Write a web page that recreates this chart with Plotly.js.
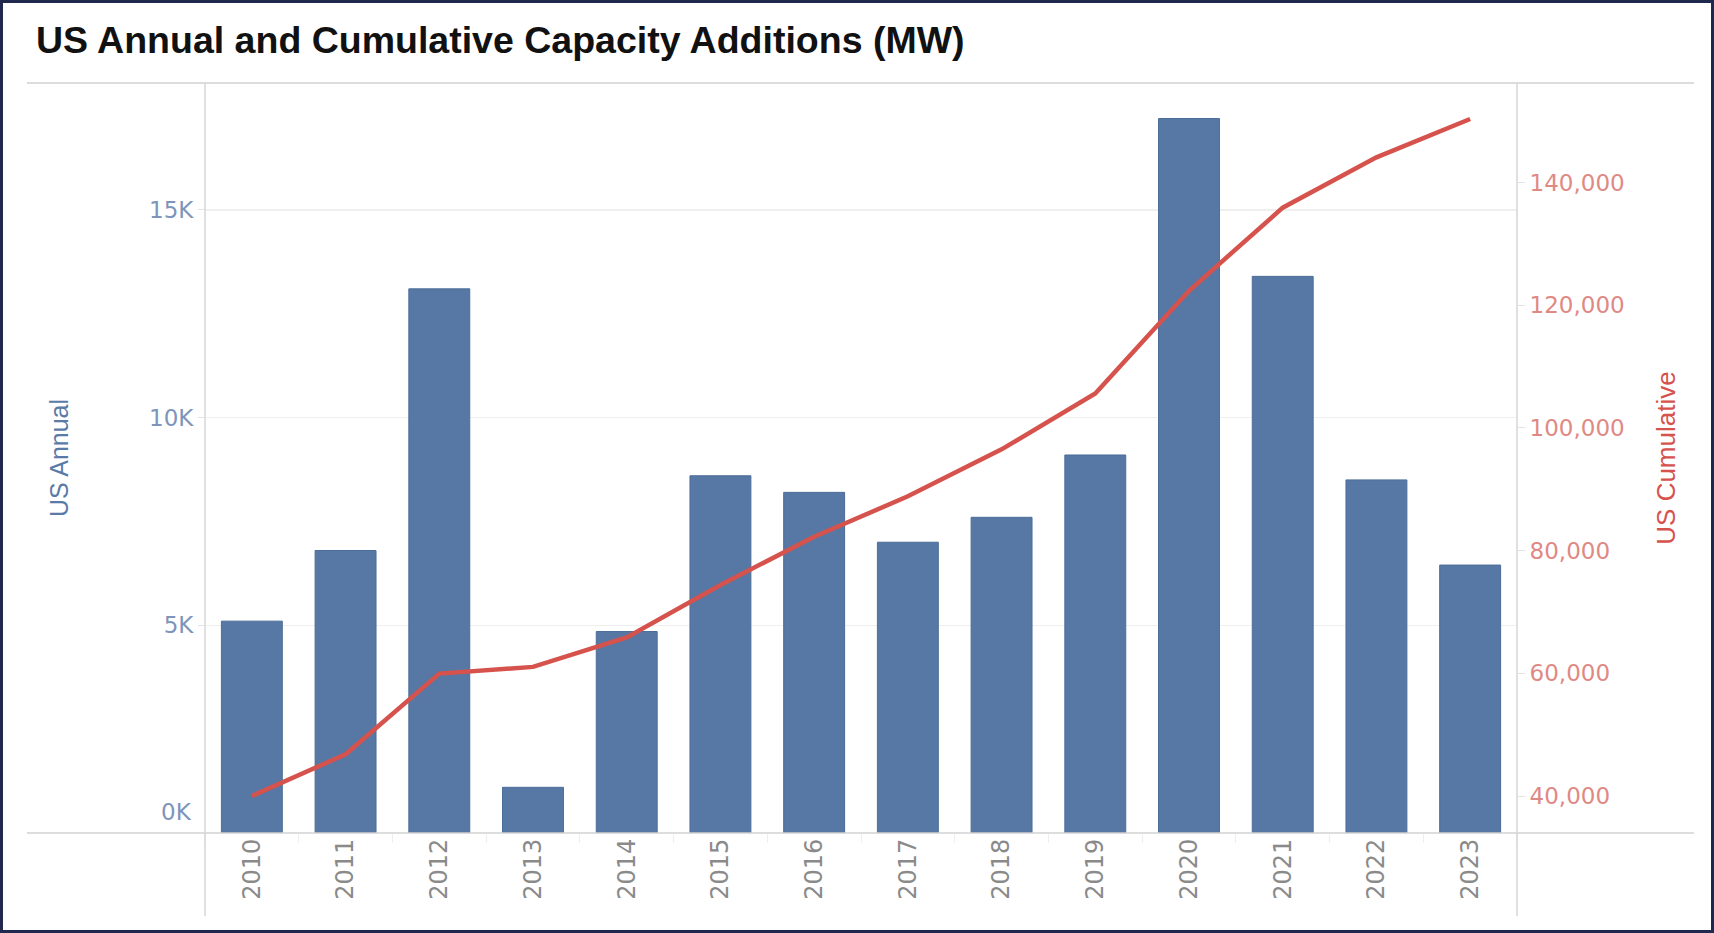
<!DOCTYPE html>
<html>
<head>
<meta charset="utf-8">
<script src="https://cdn.plot.ly/plotly-3.0.1.min.js"></script>
<style>
  html, body { margin: 0; padding: 0; background: #ffffff; }
  #wrap { position: relative; width: 1714px; height: 933px; }
  #chart { position: absolute; left: 0; top: 0; width: 1714px; height: 933px; }
  #frame { position: absolute; left: 0; top: 0; width: 1714px; height: 933px; box-sizing: border-box;
           border: 3px solid #20284d; pointer-events: none; }
</style>
</head>
<body>
<div id="wrap">
  <div id="chart"></div>
  <div id="frame"></div>
</div>
<script>
// ---- data ----
const years = ["2010","2011","2012","2013","2014","2015","2016","2017","2018","2019","2020","2021","2022","2023"];
const annualMW = [5100, 6800, 13100, 1100, 4850, 8600, 8200, 7000, 7600, 9100, 17200, 13400, 8500, 6450];
const cumulativeMW = [40000, 46800, 59950, 61050, 65850, 74400, 82250, 88850, 96500, 105600, 122350, 135900, 144100, 150350];
const annualTickVals = [5000, 10000, 15000];
const annualTickText = ["5K", "10K", "15K"];
const zeroLabel = "0K";
const cumulativeTickVals = [40000, 60000, 80000, 100000, 120000, 140000];

const chartTitle = "US Annual and Cumulative Capacity Additions (MW)";
const leftTitle = "US Annual";
const rightTitle = "US Cumulative";

// ---- styles ----
const W = 1714, H = 933;
const mL = 205, mR = 197, mT = 83, mB = 100;
const plotW = W - mL - mR, plotH = H - mT - mB;
const hx0 = (27 - mL) / plotW, hx1 = (1694 - mL) / plotW;
const vy1 = (H - mB - 916) / plotH;

const barColor = "#5778a4";
const lineColor = "#d6524d";
const tickFont = "DejaVu Sans, Verdana, sans-serif";
const titleFont = "Liberation Sans, Arial, sans-serif";

const traces = [
  {
    type: "bar",
    x: years,
    y: annualMW,
    name: leftTitle,
    marker: { color: barColor, line: { color: "#4b6d99", width: 1 } },
    yaxis: "y",
    hoverinfo: "x+y"
  },
  {
    type: "scatter",
    mode: "lines",
    x: years,
    y: cumulativeMW,
    name: rightTitle,
    line: { color: lineColor, width: 4.5 },
    yaxis: "y2",
    hoverinfo: "x+y"
  }
];

const layout = {
  width: W,
  height: H,
  paper_bgcolor: "#ffffff",
  plot_bgcolor: "#ffffff",
  showlegend: false,
  bargap: 0.35,
  margin: { l: mL, r: mR, t: mT, b: mB, pad: 0 },
  title: {
    text: chartTitle,
    font: { family: titleFont, size: 37.5, color: "#111111", weight: "bold" },
    xref: "container", x: 36 / W, xanchor: "left",
    yref: "container", y: 1 - 40 / H, yanchor: "middle"
  },
  xaxis: {
    type: "category",
    range: [-0.5, 13.5],
    showgrid: false,
    zeroline: false,
    showline: false,
    tickangle: -90,
    ticks: "outside",
    tickson: "boundaries",
    ticklen: 9,
    tickcolor: "#eeeeee",
    tickfont: { family: tickFont, size: 24, color: "#8a8a8a" },
    fixedrange: true
  },
  yaxis: {
    range: [0, 18055],
    tickvals: annualTickVals,
    ticktext: annualTickText,
    showgrid: true,
    gridcolor: "#efefef",
    gridwidth: 1.5,
    zeroline: false,
    showline: false,
    ticks: "outside",
    ticklen: 6,
    tickcolor: "#e3e3e3",
    tickfont: { family: tickFont, size: 23, color: "#7d95ba" },
    title: {
      text: leftTitle,
      font: { family: titleFont, size: 25, color: "#5a7aa8" },
      standoff: 73
    },
    fixedrange: true
  },
  yaxis2: {
    overlaying: "y",
    side: "right",
    range: [33970, 156220],
    tickvals: cumulativeTickVals,
    tickformat: ",d",
    showgrid: false,
    zeroline: false,
    showline: false,
    ticks: "outside",
    ticklen: 7,
    tickcolor: "#e3e3e3",
    tickfont: { family: tickFont, size: 23, color: "#df8985" },
    title: {
      text: rightTitle,
      font: { family: titleFont, size: 26, color: "#d6524d" },
      standoff: 33
    },
    fixedrange: true
  },
  annotations: [
    {
      xref: "paper", yref: "y",
      x: 0, y: 0,
      text: zeroLabel,
      showarrow: false,
      xanchor: "right", yanchor: "bottom",
      xshift: -11, yshift: 6,
      font: { family: tickFont, size: 23, color: "#7d95ba" }
    }
  ],
  shapes: [
    { type: "line", xref: "paper", yref: "paper", x0: hx0, x1: hx1, y0: 1, y1: 1,
      line: { color: "#dcdcdc", width: 2 } },
    { type: "line", xref: "paper", yref: "paper", x0: hx0, x1: hx1, y0: 0, y1: 0,
      line: { color: "#d2d2d2", width: 1.5 } },
    { type: "line", xref: "paper", yref: "paper", x0: 0, x1: 0, y0: 1, y1: vy1,
      line: { color: "#d6d6d6", width: 1.5 } },
    { type: "line", xref: "paper", yref: "paper", x0: 1, x1: 1, y0: 1, y1: vy1,
      line: { color: "#d6d6d6", width: 1.5 } }
  ]
};

Plotly.newPlot("chart", traces, layout, { displayModeBar: false, staticPlot: true });
</script>
</body>
</html>
